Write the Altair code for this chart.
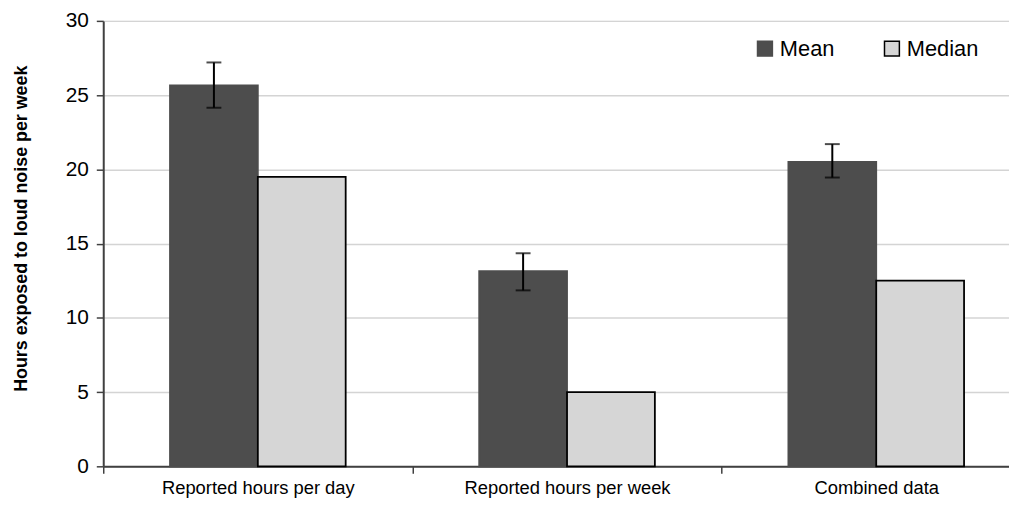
import altair as alt
import pandas as pd

categories = ["Reported hours per day", "Reported hours per week", "Combined data"]
series = ["Mean", "Median"]
mean_values = [25.65, 13.15, 20.5]
median_values = [19.5, 5.0, 12.5]
err_low = [24.15, 11.85, 19.45]
err_high = [27.2, 14.35, 21.7]
y_ticks = [0, 5, 10, 15, 20, 25, 30]

rows = []
for c, m, md in zip(categories, mean_values, median_values):
    rows.append({"category": c, "stat": "Mean", "value": m})
    rows.append({"category": c, "stat": "Median", "value": md})
bars_df = pd.DataFrame(rows)
err_df = pd.DataFrame({"category": categories, "stat": ["Mean"] * 3,
                       "lo": err_low, "hi": err_high})

FONT = "Liberation Sans"

x_enc = alt.X("category:N", sort=categories, title=None,
              scale=alt.Scale(paddingInner=0, paddingOuter=0, range=[0, 935]),
              axis=alt.Axis(labelAngle=0, labelFontSize=18.5, labelFont=FONT,
                            labelColor="black", labelPadding=5, labelLimit=0,
                            tickBand="extent", tickSize=7, tickColor="#404040",
                            tickWidth=1.5, domainColor="#404040", domainWidth=2,
                            grid=False))
xoff_enc = alt.XOffset("stat:N", sort=series,
                       scale=alt.Scale(domain=series, paddingInner=0, paddingOuter=0.76))

y_scale = alt.Scale(domain=[0, 30], nice=False)

legend_cfg = dict(title=None, orient="none", direction="horizontal",
                  legendX=656, legendY=17, padding=0,
                  symbolType="square", symbolSize=225,
                  symbolStrokeWidth=1.5, labelFontSize=22,
                  labelFont=FONT, labelColor="black",
                  labelOffset=4, columnPadding=46)

bars = alt.Chart(bars_df).mark_bar(strokeWidth=1.8).encode(
    x=x_enc,
    xOffset=xoff_enc,
    y=alt.Y("value:Q", scale=y_scale,
            title="Hours exposed to loud noise per week",
            axis=alt.Axis(values=y_ticks, labelFontSize=21, labelFont=FONT,
                          labelColor="black", labelPadding=8,
                          tickSize=7, tickColor="#404040", tickWidth=1.5,
                          domainColor="#404040", domainWidth=2,
                          grid=True, gridColor="#d4d4d4", gridWidth=1.5,
                          titleFont=FONT, titleFontSize=18, titleFontWeight="bold",
                          titleColor="black", titleX=-82, titleY=209,
                          titleAngle=270, titleAlign="center",
                          titleBaseline="middle")),
    fill=alt.Fill("stat:N", sort=series,
                  scale=alt.Scale(domain=series, range=["#4d4d4d", "#d6d6d6"]),
                  legend=alt.Legend(**legend_cfg)),
    stroke=alt.Stroke("stat:N", sort=series,
                      scale=alt.Scale(domain=series, range=["#4d4d4d", "black"]),
                      legend=alt.Legend(**legend_cfg)),
)

rule = alt.Chart(err_df).mark_rule(color="black", strokeWidth=2).encode(
    x=alt.X("category:N", sort=categories),
    xOffset=alt.XOffset("stat:N", sort=series),
    y=alt.Y("lo:Q", scale=y_scale),
    y2="hi:Q",
)
cap_lo = alt.Chart(err_df).mark_tick(color="black", thickness=2, size=15).encode(
    x=alt.X("category:N", sort=categories),
    xOffset=alt.XOffset("stat:N", sort=series),
    y=alt.Y("lo:Q", scale=y_scale),
)
cap_hi = alt.Chart(err_df).mark_tick(color="black", thickness=2, size=15).encode(
    x=alt.X("category:N", sort=categories),
    xOffset=alt.XOffset("stat:N", sort=series),
    y=alt.Y("hi:Q", scale=y_scale),
)

chart = alt.layer(bars, rule, cap_lo, cap_hi).properties(
    width=913, height=449,
    autosize=alt.AutoSizeParams(type="none"),
    padding={"left": 96, "top": 11, "right": 0, "bottom": 36},
).configure_view(stroke=None).configure(background="white")

chart.save("out.html", embed_options={"renderer": "svg", "actions": False})
